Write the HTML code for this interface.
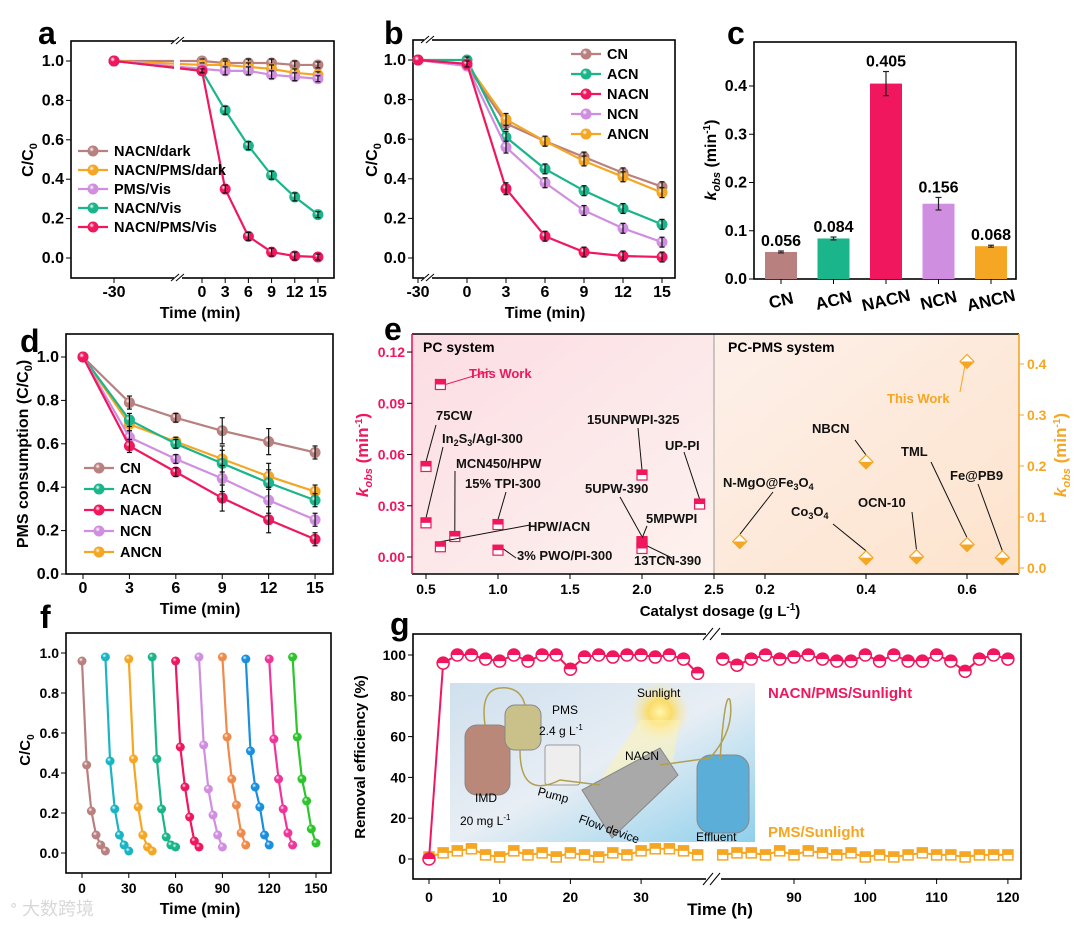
<!DOCTYPE html>
<html><head><meta charset="utf-8"><style>
html,body{margin:0;padding:0;background:#fff;}
svg{display:block;font-family:"Liberation Sans","Noto Sans CJK SC",sans-serif;font-weight:bold;}
</style></head><body>
<svg id="fig" width="1080" height="925" viewBox="0 0 1080 925" xmlns="http://www.w3.org/2000/svg">
<defs>
<linearGradient id="eL" x1="0" y1="0" x2="1" y2="1"><stop offset="0" stop-color="#fbdde4"/><stop offset="1" stop-color="#fdf2ee"/></linearGradient>
<linearGradient id="eR" x1="0" y1="0" x2="1" y2="1"><stop offset="0" stop-color="#fdf0ea"/><stop offset="1" stop-color="#fde3cc"/></linearGradient>
<linearGradient id="inset" x1="0" y1="0" x2="1" y2="1"><stop offset="0" stop-color="#cfe0ee"/><stop offset="0.5" stop-color="#e8eef4"/><stop offset="1" stop-color="#8fd0ec"/></linearGradient>
<radialGradient id="sun"><stop offset="0" stop-color="#fff7b0"/><stop offset="0.4" stop-color="#ffd84a" stop-opacity="0.8"/><stop offset="1" stop-color="#ffe9a0" stop-opacity="0"/></radialGradient>
</defs>
</svg>
<script>
// ---------- data ----------
const aTimes=[-30,0,3,6,9,12,15];
const aNames=['NACN/dark','NACN/PMS/dark','PMS/Vis','NACN/Vis','NACN/PMS/Vis'];
const aDark=[1,1,0.99,0.99,0.99,0.98,0.98];
const aPmsDark=[1,0.98,0.98,0.97,0.96,0.94,0.93];
const aPmsVis=[1,0.96,0.95,0.95,0.93,0.92,0.91];
const aNacnVis=[1,0.95,0.75,0.57,0.42,0.31,0.22];
const aNacnPmsVis=[1,0.95,0.35,0.11,0.03,0.01,0.005];
const aErr=[0,0.01,0.02,0.02,0.02,0.02,0.015];

const bTimes=[-30,0,3,6,9,12,15];
const bNames=['CN','ACN','NACN','NCN','ANCN'];
const bCN=[1,0.97,0.68,0.59,0.51,0.43,0.36];
const bACN=[1,1,0.61,0.45,0.34,0.25,0.17];
const bNACN=[1,0.98,0.35,0.11,0.03,0.01,0.005];
const bNCN=[1,0.97,0.56,0.38,0.24,0.15,0.08];
const bANCN=[1,0.98,0.70,0.59,0.49,0.41,0.33];
const bErr=[0,0.015,0.03,0.025,0.025,0.025,0.025];

const cCats=['CN','ACN','NACN','NCN','ANCN'];
const cVals=[0.056,0.084,0.405,0.156,0.068];
const cErr=[0.002,0.003,0.025,0.013,0.002];
const cTicks=[0,0.1,0.2,0.3,0.4];

const dTimes=[0,3,6,9,12,15];
const dCN=[1,0.79,0.72,0.66,0.61,0.56];
const dACN=[1,0.71,0.60,0.51,0.42,0.34];
const dNACN=[1,0.59,0.47,0.35,0.25,0.16];
const dNCN=[1,0.63,0.53,0.44,0.34,0.25];
const dANCN=[1,0.69,0.61,0.53,0.45,0.38];
const dErr=[0,0.03,0.02,0.06,0.06,0.03];

const eLeftNames=['This Work','75CW','In2S3/AgI-300','MCN450/HPW','15% TPI-300','HPW/ACN','3% PWO/PI-300','15UNPWPI-325','UP-PI','5UPW-390','5MPWPI','13TCN-390'];
const eLeftDose=[0.6,0.5,0.5,0.7,1.0,0.6,1.0,2.0,2.4,2.0,2.0,2.0];
const eLeftK=[0.101,0.053,0.020,0.012,0.019,0.006,0.004,0.048,0.031,0.009,0.008,0.005];
const eRightNames=['This Work','NBCN','N-MgO@Fe3O4','Co3O4','OCN-10','TML','Fe@PB9'];
const eRightDose=[0.6,0.4,0.15,0.4,0.5,0.6,0.67];
const eRightK=[0.405,0.208,0.052,0.02,0.022,0.046,0.02];

const fCycles=[
 [0.96,0.44,0.21,0.09,0.04,0.01],
 [0.98,0.46,0.22,0.09,0.04,0.01],
 [0.97,0.47,0.23,0.09,0.03,0.01],
 [0.98,0.47,0.22,0.08,0.04,0.03],
 [0.96,0.53,0.33,0.18,0.06,0.03],
 [0.98,0.54,0.32,0.19,0.09,0.03],
 [0.98,0.58,0.37,0.24,0.10,0.04],
 [0.97,0.51,0.33,0.23,0.09,0.04],
 [0.97,0.57,0.37,0.22,0.10,0.04],
 [0.98,0.58,0.37,0.26,0.12,0.05]];
const fStep=[0,3,6,9,12,15];

const gTimesL=[0,2,4,6,8,10,12,14,16,18,20,22,24,26,28,30,32,34,36,38];
const gPinkL=[0,96,100,100,98,97,100,97,100,100,93,99,100,99,100,100,99,100,98,91];
const gOrgL=[1,3,4,5,2,1,4,2,3,1,3,2,1,3,2,4,5,5,4,2];
const gTimesR=[80,82,84,86,88,90,92,94,96,98,100,102,104,106,108,110,112,114,116,118,120];
const gPinkR=[98,95,98,100,98,99,100,98,97,97,100,97,100,97,97,100,97,92,98,100,98];
const gOrgR=[2,3,3,2,4,2,4,3,2,3,1,2,1,2,3,2,2,1,2,2,2];

// ---------- helpers ----------
const NS='http://www.w3.org/2000/svg';
const svg=document.getElementById('fig');
const defs=svg.querySelector('defs');
function mk(tag,attrs,name,inter,parent){
  const el=document.createElementNS(NS,tag);
  for(const k in attrs) el.setAttribute(k,attrs[k]);
  
  
  (parent||svg).appendChild(el);
  return el;
}
function txt(x,y,s,name,opts){const t=mk('text',Object.assign({x:x,y:y,'font-size':15},opts||{}),name,false);t.textContent=s;return t;}
function htxt(x,y,h,name,opts){const t=mk('text',Object.assign({x:x,y:y,'font-size':15},opts||{}),name,false);t.innerHTML=h;return t;}
function line(x1,y1,x2,y2,name,st,w){return mk('line',{x1:x1,y1:y1,x2:x2,y2:y2,stroke:st||'#000','stroke-width':w||1},name,false);}
const COL={brown:'#b8807e',orange:'#f5a623',lilac:'#d08ee0',teal:'#1ab58a',pink:'#f0175e'};
let gid=0;
function grad(c){
  const id='sg'+(gid++);
  const g=document.createElementNS(NS,'radialGradient');
  g.setAttribute('id',id);g.setAttribute('cx','0.38');g.setAttribute('cy','0.35');g.setAttribute('r','0.65');
  g.innerHTML='<stop offset="0" stop-color="#ffffff"/><stop offset="0.35" stop-color="'+c+'"/><stop offset="1" stop-color="'+c+'"/>';
  defs.appendChild(g);return 'url(#'+id+')';
}
function box(x,y,w,h,name){return mk('rect',{x:x,y:y,width:w,height:h,fill:'none',stroke:'#000','stroke-width':1.6},name,false);}
function series(xs,ys,xf,yf,color,name,r,errs){
  const pts=xs.map((t,i)=>xf(t)+','+yf(ys[i])).join(' ');
  mk('polyline',{points:pts,fill:'none',stroke:color,'stroke-width':2.2},name+'-line',false);
  const f=grad(color);
  xs.forEach((t,i)=>{
    const c=mk('circle',{cx:xf(t),cy:yf(ys[i]),r:r||5.5,fill:f},name+'-point',false);
    if(errs&&errs[i]>0){
      const y1=yf(ys[i]+errs[i]),y2=yf(ys[i]-errs[i]);
      line(xf(t),y1,xf(t),y2,name+'-error-bar','#111',1.2);
      line(xf(t)-2.5,y1,xf(t)+2.5,y1,name+'-error-cap','#111',1.2);
      line(xf(t)-2.5,y2,xf(t)+2.5,y2,name+'-error-cap','#111',1.2);
    }
  });
}
function yTicks(vals,yf,x0,labels,name,opts){
  vals.forEach((v,i)=>{line(x0-5,yf(v),x0,yf(v),name+'-tick');
    txt(x0-7,yf(v)+5,labels[i],name+'-label',Object.assign({'text-anchor':'end'},opts||{}));});
}
function xTicks(vals,xf,y0,labels,name,ly,opts){
  vals.forEach((v,i)=>{line(xf(v),y0,xf(v),y0+5,name+'-tick');
    txt(xf(v),ly,labels[i],name+'-label',Object.assign({'text-anchor':'middle'},opts||{}));});
}
function legend(items,x,y0,dy,name){
  items.forEach((it,i)=>{const y=y0+i*dy;
    line(x,y,x+30,y,name+'-line',it[1],2.2);
    mk('circle',{cx:x+15,cy:y,r:5.5,fill:grad(it[1])},name+'-marker',false);
    txt(x+36,y+5,it[0],name+'-entry',{'font-size':14.5});});
}
function breakMark(x,y,name){
  mk('rect',{x:x-4,y:y-4,width:8,height:8,fill:'#fff'},name+'-gap',false);
  line(x-7,y+3,x+1,y-4,name); line(x-2,y+3,x+6,y-4,name);
}
function panelLetter(x,y,s){txt(x,y,s,'panel-label-'+s,{'font-size':32});}

// ---------- panel a ----------
const xA=t=>t<0?114:202+t*7.73, yA=v=>258-v*197;
panelLetter(38,44,'a');
box(71,41,263,237,'panel-a-frame');
yTicks([0,0.2,0.4,0.6,0.8,1.0],yA,71,['0.0','0.2','0.4','0.6','0.8','1.0'],'a-y-tick',{'font-size':16});
xTicks(aTimes,xA,278,['-30','0','3','6','9','12','15'],'a-x-tick',297,{'font-size':16});
htxt(0,0,'C/C<tspan font-size="11" dy="4">0</tspan>','a-y-axis-title',{transform:'translate(33,160) rotate(-90)','text-anchor':'middle','font-size':16});
txt(200,318,'Time (min)','a-x-axis-title',{'text-anchor':'middle','font-size':16});
series(aTimes,aDark,xA,yA,COL.brown,'a-nacn-dark',5.5,aErr);
series(aTimes,aPmsDark,xA,yA,COL.orange,'a-nacn-pms-dark',5.5,aErr);
series(aTimes,aPmsVis,xA,yA,COL.lilac,'a-pms-vis',5.5,aErr);
series(aTimes,aNacnVis,xA,yA,COL.teal,'a-nacn-vis',5.5,aErr);
series(aTimes,aNacnPmsVis,xA,yA,COL.pink,'a-nacn-pms-vis',5.5,aErr);
mk('rect',{x:174,y:50,width:6,height:20,fill:'#fff'},'a-break-gap',false);
breakMark(178,41,'a-break-top');breakMark(178,278,'a-break-bottom');
legend(aNames.map((n,i)=>[n,[COL.brown,COL.orange,COL.lilac,COL.teal,COL.pink][i]]),78,151,19,'a-legend');

// ---------- panel b ----------
const xB=t=>t<0?418:467+t*13, yB=v=>258-v*198;
panelLetter(384,44,'b');
box(413,40,262,238,'panel-b-frame');
yTicks([0,0.2,0.4,0.6,0.8,1.0],yB,413,['0.0','0.2','0.4','0.6','0.8','1.0'],'b-y-tick',{'font-size':16});
xTicks(bTimes,xB,278,['-30','0','3','6','9','12','15'],'b-x-tick',297,{'font-size':16});
htxt(0,0,'C/C<tspan font-size="11" dy="4">0</tspan>','b-y-axis-title',{transform:'translate(377,160) rotate(-90)','text-anchor':'middle','font-size':16});
txt(545,318,'Time (min)','b-x-axis-title',{'text-anchor':'middle','font-size':16});
series(bTimes,bCN,xB,yB,COL.brown,'b-cn',5.5,bErr);
series(bTimes,bANCN,xB,yB,COL.orange,'b-ancn',5.5,bErr);
series(bTimes,bACN,xB,yB,COL.teal,'b-acn',5.5,bErr);
series(bTimes,bNCN,xB,yB,COL.lilac,'b-ncn',5.5,bErr);
series(bTimes,bNACN,xB,yB,COL.pink,'b-nacn',5.5,bErr);
breakMark(428,40,'b-break-top');breakMark(428,278,'b-break-bottom');
legend(bNames.map((n,i)=>[n,[COL.brown,COL.teal,COL.pink,COL.lilac,COL.orange][i]]),571,54,20,'b-legend');

// ---------- panel c ----------
const yC=v=>279-v*482.5, xC=i=>781+i*52.5;
panelLetter(727,44,'c');
box(754,42,262,237,'panel-c-frame');
yTicks(cTicks,yC,754,['0.0','0.1','0.2','0.3','0.4'],'c-y-tick',{'font-size':16});
const cCols=[COL.brown,COL.teal,COL.pink,COL.lilac,COL.orange];
cVals.forEach((v,i)=>{
  mk('rect',{x:xC(i)-16,y:yC(v),width:32,height:yC(0)-yC(v),fill:cCols[i]},'c-bar-'+cCats[i].toLowerCase(),false);
  const t1=yC(v+cErr[i]),t2=yC(v-cErr[i]);
  line(xC(i),t1,xC(i),t2,'c-error-bar','#222',1.2);
  line(xC(i)-3,t1,xC(i)+3,t1,'c-error-cap','#222',1.2);line(xC(i)-3,t2,xC(i)+3,t2,'c-error-cap','#222',1.2);
  txt(xC(i),t1-5,v.toFixed(3),'c-value-label',{'text-anchor':'middle','font-size':16});
  line(xC(i),279,xC(i),284,'c-x-tick');
  txt(xC(i),306,cCats[i],'c-x-label',{'text-anchor':'middle','font-size':17,transform:'rotate(-13 '+xC(i)+' 300)'});
});
htxt(0,0,'<tspan font-style="italic">k</tspan><tspan font-style="italic" font-size="11" dy="4">obs</tspan><tspan dy="-4"> (min</tspan><tspan font-size="10" dy="-6">-1</tspan><tspan dy="6">)</tspan>','c-y-axis-title',{transform:'translate(716,160) rotate(-90)','text-anchor':'middle','font-size':16});

// ---------- panel d ----------
const xD=t=>83+t*15.47, yD=v=>574-v*217;
panelLetter(20,352,'d');
box(66,334,267,240,'panel-d-frame');
yTicks([0,0.2,0.4,0.6,0.8,1.0],yD,66,['0.0','0.2','0.4','0.6','0.8','1.0'],'d-y-tick',{'font-size':16});
xTicks(dTimes,xD,574,['0','3','6','9','12','15'],'d-x-tick',593,{'font-size':16});
htxt(0,0,'PMS consumption (C/C<tspan font-size="11" dy="4">0</tspan><tspan dy="-4">)</tspan>','d-y-axis-title',{transform:'translate(28,454) rotate(-90)','text-anchor':'middle','font-size':16});
txt(200,614,'Time (min)','d-x-axis-title',{'text-anchor':'middle','font-size':16});
series(dTimes,dCN,xD,yD,COL.brown,'d-cn',5.5,dErr);
series(dTimes,dANCN,xD,yD,COL.orange,'d-ancn',5.5,dErr);
series(dTimes,dACN,xD,yD,COL.teal,'d-acn',5.5,dErr);
series(dTimes,dNCN,xD,yD,COL.lilac,'d-ncn',5.5,dErr);
series(dTimes,dNACN,xD,yD,COL.pink,'d-nacn',5.5,dErr);
legend(bNames.map((n,i)=>[n,[COL.brown,COL.teal,COL.pink,COL.lilac,COL.orange][i]]),84,468,21,'d-legend');

// ---------- panel e ----------
const xEL=d=>426+(d-0.5)*144, yEL=k=>557-k*1708;
const xER=d=>765+(d-0.2)*505, yER=k=>568-k*510;
panelLetter(384,340,'e');
mk('rect',{x:412,y:334,width:302,height:240,fill:'url(#eL)'},'e-pc-region',false);
mk('rect',{x:714,y:334,width:305,height:240,fill:'url(#eR)'},'e-pc-pms-region',false);
line(714,334,714,574,'e-divider','#999',1);
line(412,334,1019,334,'e-top-axis','#000',1.6);line(412,574,1019,574,'e-bottom-axis','#000',1.6);
line(412,334,412,574,'e-left-axis',COL.pink,1.6);line(1019,334,1019,574,'e-right-axis',COL.orange,1.6);
yTicks([0,0.03,0.06,0.09,0.12],yEL,412,['0.00','0.03','0.06','0.09','0.12'],'e-left-y-tick',{fill:COL.pink,'font-size':14});
[0,0.1,0.2,0.3,0.4].forEach(v=>{line(1019,yER(v),1024,yER(v),'e-right-y-tick',COL.orange);
  txt(1027,yER(v)+5,v.toFixed(1),'e-right-y-label',{fill:COL.orange,'font-size':14});});
[0.5,1.0,1.5,2.0,2.5].forEach(v=>{line(xEL(v),574,xEL(v),579,'e-x-tick');txt(xEL(v),594,v.toFixed(1),'e-x-label',{'text-anchor':'middle','font-size':14});});
[0.2,0.4,0.6].forEach(v=>{line(xER(v),574,xER(v),579,'e-x-tick');txt(xER(v),594,v.toFixed(1),'e-x-label',{'text-anchor':'middle','font-size':14});});
htxt(720,616,'Catalyst dosage (g L<tspan font-size="10" dy="-6">-1</tspan><tspan dy="6">)</tspan>','e-x-axis-title',{'text-anchor':'middle','font-size':15});
htxt(0,0,'<tspan font-style="italic">k</tspan><tspan font-style="italic" font-size="11" dy="4">obs</tspan><tspan dy="-4"> (min</tspan><tspan font-size="10" dy="-6">-1</tspan><tspan dy="6">)</tspan>','e-left-y-axis-title',{transform:'translate(368,455) rotate(-90)','text-anchor':'middle','font-size':17,fill:COL.pink});
htxt(0,0,'<tspan font-style="italic">k</tspan><tspan font-style="italic" font-size="11" dy="4">obs</tspan><tspan dy="-4"> (min</tspan><tspan font-size="10" dy="-6">-1</tspan><tspan dy="6">)</tspan>','e-right-y-axis-title',{transform:'translate(1066,455) rotate(-90)','text-anchor':'middle','font-size':17,fill:COL.orange});
txt(423,352,'PC system','e-pc-title',{'font-size':14});
txt(728,352,'PC-PMS system','e-pc-pms-title',{'font-size':14});
const eLeftLabel=[[469,378,445,380],[436,420,426,459],[442,443,427,512],[456,468,455,535],[465,488,500,518],[528,531,446,548],[517,560,505,555],[587,424,642,466],[665,450,700,502],[585,493,636,548],[646,523,643,541],[634,565,650,546]];
const eLeftLead=[[490,371],[436,425],[443,447],[455,471],[506,492],[530,525],[516,558],[638,428],[684,452],[620,497],[647,526],[672,558]];
eLeftNames.forEach((n,i)=>{
  const x=xEL(eLeftDose[i]),y=yEL(eLeftK[i]);
  const L=eLeftLabel[i];
  line(eLeftLead[i][0],eLeftLead[i][1],x+(i==0?5:0),y-(i==0?0:5),'e-leader-line',i==0?COL.pink:'#111',1);
  const h=n=='In2S3/AgI-300'?'In<tspan font-size="9" dy="3">2</tspan><tspan dy="-3">S</tspan><tspan font-size="9" dy="3">3</tspan><tspan dy="-3">/AgI-300</tspan>':n;
  htxt(L[0],L[1],h,'e-label-'+i,{'font-size':13,fill:i==0?COL.pink:'#111'});
  mk('rect',{x:x-5,y:y-5,width:10,height:10,fill:'#fff',stroke:COL.pink,'stroke-width':1.2},'e-pc-point',false);
  mk('rect',{x:x-5,y:y-5,width:10,height:5,fill:COL.pink},'e-pc-point-fill',false);
});
const eRightLabel=[[887,403],[812,433],[723,487],[791,516],[858,507],[901,456],[950,480]];
const eRightLead=[[960,392],[855,440],[773,492],[833,524],[912,512],[931,462],[978,484]];
eRightNames.forEach((n,i)=>{
  const x=xER(eRightDose[i]),y=yER(eRightK[i]);
  line(eRightLead[i][0],eRightLead[i][1],x,y-7,'e-leader-line',i==0?COL.orange:'#111',1);
  let h=n;
  if(n=='N-MgO@Fe3O4')h='N-MgO@Fe<tspan font-size="9" dy="3">3</tspan><tspan dy="-3">O</tspan><tspan font-size="9" dy="3">4</tspan>';
  if(n=='Co3O4')h='Co<tspan font-size="9" dy="3">3</tspan><tspan dy="-3">O</tspan><tspan font-size="9" dy="3">4</tspan>';
  htxt(eRightLabel[i][0],eRightLabel[i][1],h,'e-label-r'+i,{'font-size':13,fill:i==0?COL.orange:'#111'});
  mk('polygon',{points:(x)+','+(y-7)+' '+(x+7)+','+y+' '+x+','+(y+7)+' '+(x-7)+','+y,fill:'#fff',stroke:COL.orange,'stroke-width':1.2},'e-pc-pms-point',false);
  mk('polygon',{points:(x-7)+','+y+' '+(x+7)+','+y+' '+x+','+(y+7),fill:COL.orange},'e-pc-pms-point-fill',false);
});

// ---------- panel f ----------
const xF=t=>82+t*1.56, yF=v=>853-v*200;
panelLetter(40,628,'f');
box(66,633,265,240,'panel-f-frame');
yTicks([0,0.2,0.4,0.6,0.8,1.0],yF,66,['0.0','0.2','0.4','0.6','0.8','1.0'],'f-y-tick',{'font-size':14});
xTicks([0,30,60,90,120,150],xF,873,['0','30','60','90','120','150'],'f-x-tick',893,{'font-size':14});
htxt(0,0,'C/C<tspan font-size="10" dy="4">0</tspan>','f-y-axis-title',{transform:'translate(30,750) rotate(-90)','text-anchor':'middle','font-size':15});
txt(200,914,'Time (min)','f-x-axis-title',{'text-anchor':'middle','font-size':16});
const fCols=['#b8807e','#1ab5c5','#f5a623','#1ab58a','#f0175e','#d08ee0','#f08a4b','#1a8fe0','#f0359a','#2cc52c'];
fCycles.forEach((cyc,k)=>{
  series(fStep.map(s=>s+k*15),cyc,xF,yF,fCols[k],'f-cycle-'+(k+1),4.5,null);
});

// ---------- panel g ----------
const xG=t=>t<=40?429+t*7.07:794+(t-90)*7.13, yG=v=>859-v*2.04;
panelLetter(390,635,'g');
box(413,634,608,245,'panel-g-frame');
yTicks([0,20,40,60,80,100],yG,413,['0','20','40','60','80','100'],'g-y-tick',{'font-size':14});
xTicks([0,10,20,30,90,100,110,120],xG,879,['0','10','20','30','90','100','110','120'],'g-x-tick',902,{'font-size':14});
txt(365,757,'Removal efficiency (%)','g-y-axis-title',{transform:'rotate(-90 365 757)','text-anchor':'middle','font-size':15});
txt(720,915,'Time (h)','g-x-axis-title',{'text-anchor':'middle','font-size':17});
mk('rect',{x:706,y:630,width:15,height:8,fill:'#fff'},'g-break-gap-top',false);
mk('rect',{x:706,y:875,width:15,height:8,fill:'#fff'},'g-break-gap-bottom',false);
line(703,640,713,628,'g-break-top');line(710,640,720,628,'g-break-top');
line(703,885,713,873,'g-break-bottom');line(710,885,720,873,'g-break-bottom');
// inset
mk('rect',{x:450,y:683,width:305,height:159,fill:'url(#inset)'},'g-inset-photo',false);
mk('circle',{cx:660,cy:712,r:30,fill:'url(#sun)'},'g-inset-sun',false);
mk('polygon',{points:'640,720 680,720 670,780 600,780',fill:'#fff3b0',opacity:0.5},'g-inset-light',false);
mk('rect',{x:465,y:725,width:45,height:70,rx:12,fill:'#b98878',stroke:'#888'},'g-inset-imd-bottle',false);
mk('rect',{x:505,y:705,width:36,height:45,rx:10,fill:'#c9c08a',stroke:'#888'},'g-inset-pms-bottle',false);
mk('rect',{x:545,y:745,width:35,height:40,rx:3,fill:'#eeeeee',stroke:'#999'},'g-inset-pump',false);
mk('polygon',{points:'582,790 660,748 678,775 612,838',fill:'#a9a9a9',stroke:'#888'},'g-inset-flow-device',false);
mk('rect',{x:697,y:755,width:52,height:78,rx:14,fill:'#5aaed8',stroke:'#888'},'g-inset-effluent-bottle',false);
mk('path',{d:'M485 725 Q480 690 500 688 Q520 686 525 705 M520 750 Q520 800 560 780 L600 785 M660 765 L710 758 Q735 730 730 700 Q725 690 720 760',fill:'none',stroke:'#b0a050','stroke-width':1.5},'g-inset-tubing',false);
[['Sunlight',637,697],['PMS',552,714],['NACN',625,760],['IMD',475,802],['Effluent',696,841]].forEach(a=>txt(a[1],a[2],a[0],'g-inset-label',{'font-size':12,'font-weight':'normal'}));
htxt(539,735,'2.4 g L<tspan font-size="8" dy="-5">-1</tspan>','g-inset-label',{'font-size':12,'font-weight':'normal'});
htxt(460,825,'20 mg L<tspan font-size="8" dy="-5">-1</tspan>','g-inset-label',{'font-size':12,'font-weight':'normal'});
txt(537,795,'Pump','g-inset-label',{'font-size':12,'font-weight':'normal',transform:'rotate(15 537 795)'});
txt(578,822,'Flow device','g-inset-label',{'font-size':12,'font-weight':'normal',transform:'rotate(20 578 822)'});
// series
function gSeries(ts,vs,color,name,sq){
  mk('polyline',{points:ts.map((t,i)=>xG(t)+','+yG(vs[i])).join(' '),fill:'none',stroke:color,'stroke-width':2},name+'-line',false);
  ts.forEach((t,i)=>{const x=xG(t),y=yG(vs[i]);
    if(sq){mk('rect',{x:x-5,y:y-5,width:10,height:10,fill:'#fff',stroke:color,'stroke-width':1.5},name+'-point',false);
      mk('rect',{x:x-5,y:y-5,width:10,height:5,fill:color},name+'-point-fill',false);}
    else{mk('circle',{cx:x,cy:y,r:6,fill:'#fff',stroke:color,'stroke-width':1.5},name+'-point',false);
      mk('path',{d:'M'+(x-6)+' '+y+' A6 6 0 0 1 '+(x+6)+' '+y+' Z',fill:color},name+'-point-fill',false);}
  });
}
gSeries(gTimesL,gOrgL,COL.orange,'g-pms-sunlight-left',true);
gSeries(gTimesR,gOrgR,COL.orange,'g-pms-sunlight-right',true);
gSeries(gTimesL,gPinkL,COL.pink,'g-nacn-pms-sunlight-left',false);
gSeries(gTimesR,gPinkR,COL.pink,'g-nacn-pms-sunlight-right',false);
txt(768,698,'NACN/PMS/Sunlight','g-label-nacn-pms-sunlight',{fill:COL.pink,'font-size':15});
txt(768,837,'PMS/Sunlight','g-label-pms-sunlight',{fill:COL.orange,'font-size':15});
// watermark
txt(10,915,'ᐤ 大数跨境','watermark',{'font-size':18,fill:'#d8d8d8','font-weight':'normal'});
</script>
</body></html>
